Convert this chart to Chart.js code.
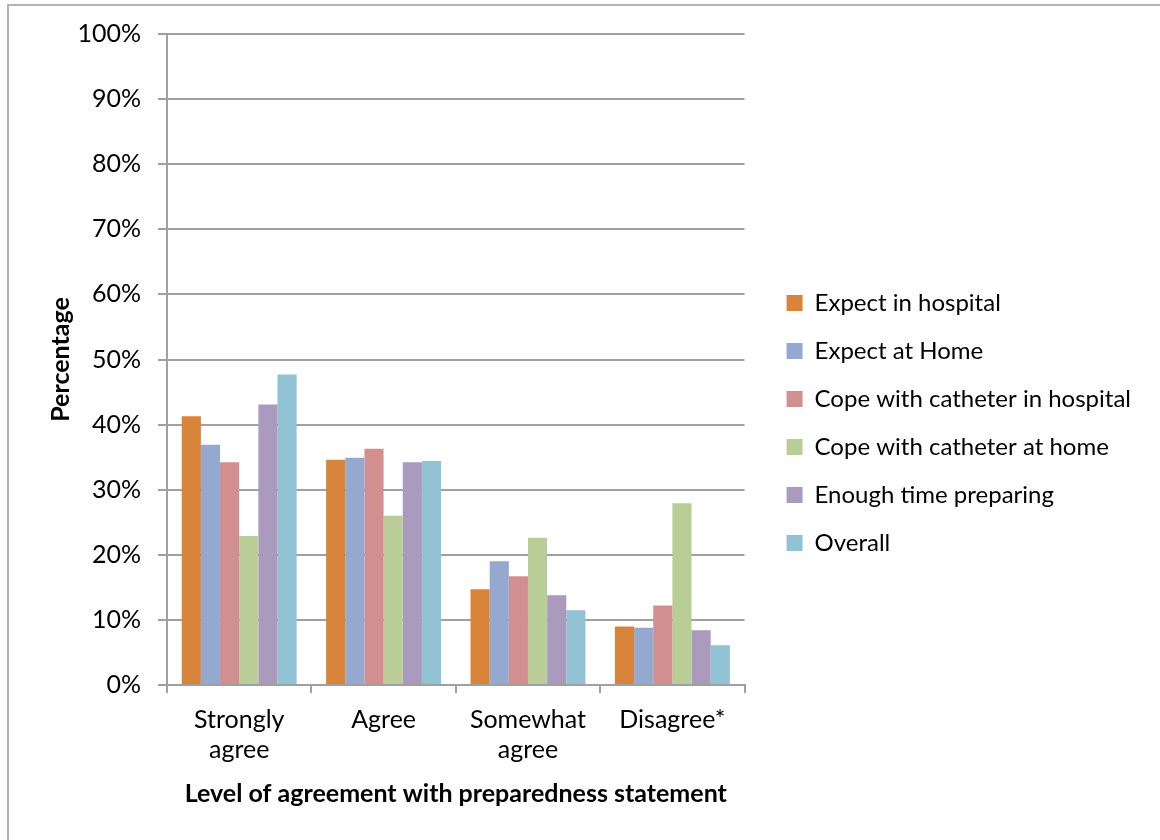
<!DOCTYPE html>
<html>
<head>
<meta charset="utf-8">
<script src="https://cdn.jsdelivr.net/npm/chart.js@4"></script>
<style>
  body { margin: 0; background: #fff; }
  #frame { position: absolute; left: 7px; top: 4px; width: 1160px; height: 900px; border: 2px solid #b4b4b4; border-right-color: #e6e6e6; }
  #chart { position: absolute; left: 0; top: 0; }
</style>
</head>
<body>
<div id="frame"></div>
<canvas id="chart" width="1160" height="840"></canvas>
<script>
// Categories and series
const categories = [['Strongly', 'agree'], 'Agree', ['Somewhat', 'agree'], 'Disagree*'];
const seriesNames = [
    'Expect in hospital',
    'Expect at Home',
    'Cope with catheter in hospital',
    'Cope with catheter at home',
    'Enough time preparing',
    'Overall'
];
const expectHospital = [41.3, 34.6, 14.7, 9.0];
const expectHome = [36.9, 34.9, 19.0, 8.8];
const copeHospital = [34.2, 36.3, 16.7, 12.2];
const copeHome = [22.9, 26.0, 22.6, 27.9];
const enoughTime = [43.1, 34.2, 13.8, 8.4];
const overall = [47.7, 34.4, 11.5, 6.1];
const yTicks = [0, 10, 20, 30, 40, 50, 60, 70, 80, 90, 100];

const colors = ['#D9843B', '#95A8D0', '#D1908F', '#B9CD96', '#A99ABE', '#91C3D5'];
const values = [expectHospital, expectHome, copeHospital, copeHome, enoughTime, overall];

const FONT = 'Lato, "Open Sans", sans-serif';
const SIZE = 25;
const GRID = '#a0a0a0';

const ctx = document.getElementById('chart').getContext('2d');

const chart = new Chart(ctx, {
    type: 'bar',
    data: {
        labels: categories,
        datasets: seriesNames.map((name, i) => ({
            label: name,
            data: values[i],
            backgroundColor: colors[i],
            borderWidth: 0,
            barPercentage: 1,
            categoryPercentage: 0.796
        }))
    },
    options: {
        responsive: false,
        animation: false,
        devicePixelRatio: 1,
        layout: { padding: { left: 0, top: 34, right: 19, bottom: 28 } },
        plugins: {
            tooltip: { enabled: false },
            legend: {
                position: 'right',
                maxWidth: 500,
                labels: {
                    boxWidth: 16,
                    boxHeight: 16,
                    padding: 24,
                    color: '#000',
                    font: { family: FONT, size: 24 }
                }
            }
        },
        scales: {
            x: {
                grid: {
                    drawOnChartArea: false,
                    tickLength: 8,
                    color: GRID,
                    lineWidth: 2
                },
                border: { color: GRID, width: 2 },
                ticks: {
                    color: '#000',
                    padding: 12,
                    font: { family: FONT, size: SIZE, lineHeight: 1.2 }
                },
                title: {
                    display: true,
                    text: 'Level of agreement with preparedness statement',
                    color: '#000',
                    font: { family: FONT, size: SIZE, weight: 'bold', lineHeight: 1.2 },
                    padding: { top: 0, bottom: 3 }
                },
                afterFit: scale => { scale.height = 127; }
            },
            y: {
                min: 0,
                max: 100,
                afterBuildTicks: scale => { scale.ticks = yTicks.map(v => ({ value: v })); },
                grid: { color: GRID, lineWidth: 2, tickLength: 9 },
                border: { color: GRID, width: 2 },
                ticks: {
                    color: '#000',
                    padding: 17,
                    font: { family: FONT, size: SIZE },
                    callback: v => v + '%'
                },
                title: {
                    display: true,
                    text: 'Percentage',
                    color: '#000',
                    font: { family: FONT, size: SIZE, weight: 'bold', lineHeight: 1.2 },
                    padding: { top: 46, bottom: 0 }
                },
                afterFit: scale => { scale.width = 167; }
            },
            // empty axis used only as a gap between plot and legend
            gap: {
                type: 'linear',
                position: 'right',
                grid: { display: false },
                border: { display: false },
                ticks: { display: false },
                afterFit: scale => { scale.width = 18; }
            }
        }
    }
});
</script>
</body>
</html>
